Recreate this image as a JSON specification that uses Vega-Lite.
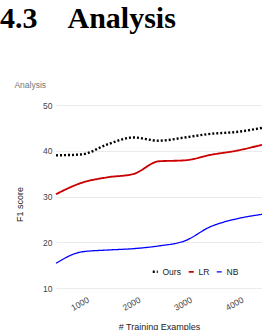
{
  "$schema": "https://vega.github.io/schema/vega-lite/v6.json",
  "width": 206,
  "height": 183,
  "autosize": {"type": "none"},
  "padding": {"left": 56, "top": 105, "right": 0, "bottom": 42},
  "background": "white",
  "title": {
    "text": "4.3\u2003Analysis",
    "subtitle": "\u200b\u2003\u2002\u2009Analysis",
    "anchor": "start",
    "frame": "group",
    "dx": -56,
    "offset": 12,
    "font": "Liberation Serif",
    "fontSize": 30,
    "fontWeight": "bold",
    "color": "#000000",
    "subtitleFont": "Liberation Sans",
    "subtitleFontSize": 8.5,
    "subtitleColor": "#757575",
    "subtitlePadding": 47
  },
  "data": {
    "values": [
      {"examples": 500, "f1": 39.0, "series": "Ours"},
      {"examples": 1000, "f1": 39.2, "series": "Ours"},
      {"examples": 1500, "f1": 41.4, "series": "Ours"},
      {"examples": 2000, "f1": 42.9, "series": "Ours"},
      {"examples": 2500, "f1": 42.2, "series": "Ours"},
      {"examples": 3000, "f1": 42.9, "series": "Ours"},
      {"examples": 3500, "f1": 43.7, "series": "Ours"},
      {"examples": 4000, "f1": 44.1, "series": "Ours"},
      {"examples": 4500, "f1": 45.0, "series": "Ours"},
      {"examples": 500, "f1": 30.5, "series": "LR"},
      {"examples": 1000, "f1": 33.0, "series": "LR"},
      {"examples": 1500, "f1": 34.2, "series": "LR"},
      {"examples": 2000, "f1": 34.9, "series": "LR"},
      {"examples": 2500, "f1": 37.7, "series": "LR"},
      {"examples": 3000, "f1": 37.9, "series": "LR"},
      {"examples": 3500, "f1": 39.1, "series": "LR"},
      {"examples": 4000, "f1": 40.0, "series": "LR"},
      {"examples": 4500, "f1": 41.3, "series": "LR"},
      {"examples": 500, "f1": 15.4, "series": "NB"},
      {"examples": 1000, "f1": 17.9, "series": "NB"},
      {"examples": 1500, "f1": 18.3, "series": "NB"},
      {"examples": 2000, "f1": 18.6, "series": "NB"},
      {"examples": 2500, "f1": 19.2, "series": "NB"},
      {"examples": 3000, "f1": 20.3, "series": "NB"},
      {"examples": 3500, "f1": 23.4, "series": "NB"},
      {"examples": 4000, "f1": 25.1, "series": "NB"},
      {"examples": 4500, "f1": 26.1, "series": "NB"}
    ]
  },
  "mark": {"type": "line", "interpolate": "monotone"},
  "encoding": {
    "x": {
      "field": "examples",
      "type": "quantitative",
      "scale": {"domain": [500, 4500], "nice": false, "zero": false},
      "axis": {
        "values": [1000, 2000, 3000, 4000],
        "format": "d",
        "labelAngle": -30,
        "labelOffset": 4,
        "labelPadding": 7,
        "grid": false,
        "title": "# Training Examples",
        "titleY": 41,
        "titleBaseline": "alphabetic"
      }
    },
    "y": {
      "field": "f1",
      "type": "quantitative",
      "scale": {"domain": [10, 50], "nice": false, "zero": false},
      "axis": {
        "values": [10, 20, 30, 40, 50],
        "labelPadding": 4,
        "title": "F1 score",
        "titleX": -33.3,
        "titleY": 99,
        "titleAngle": -90,
        "titleAlign": "center",
        "titleBaseline": "alphabetic"
      }
    },
    "color": {
      "field": "series",
      "type": "nominal",
      "scale": {"domain": ["Ours", "LR", "NB"], "range": ["#000000", "#cc0000", "#0000ff"]},
      "legend": {"title": null}
    },
    "strokeDash": {
      "field": "series",
      "type": "nominal",
      "scale": {"domain": ["Ours", "LR", "NB"], "range": [[2, 2], [1, 0], [1, 0]]},
      "legend": {"title": null}
    },
    "strokeWidth": {
      "field": "series",
      "type": "nominal",
      "scale": {"domain": ["Ours", "LR", "NB"], "range": [2.4, 1.3, 1.3]},
      "legend": null
    }
  },
  "config": {
    "font": "Liberation Sans",
    "view": {"stroke": null},
    "axis": {
      "domain": false,
      "ticks": false,
      "gridColor": "#ebebeb",
      "gridWidth": 1,
      "labelFontSize": 8.5,
      "labelColor": "#444444",
      "titleFontSize": 9,
      "titleFontWeight": "normal",
      "titleColor": "#222222"
    },
    "legend": {
      "orient": "none",
      "legendX": 95,
      "legendY": 162,
      "direction": "horizontal",
      "symbolType": "stroke",
      "symbolSize": 25,
      "symbolStrokeWidth": 2.2,
      "labelFontSize": 8.5,
      "labelColor": "#222222",
      "labelOffset": 3,
      "columnPadding": 4,
      "padding": 0
    }
  }
}
